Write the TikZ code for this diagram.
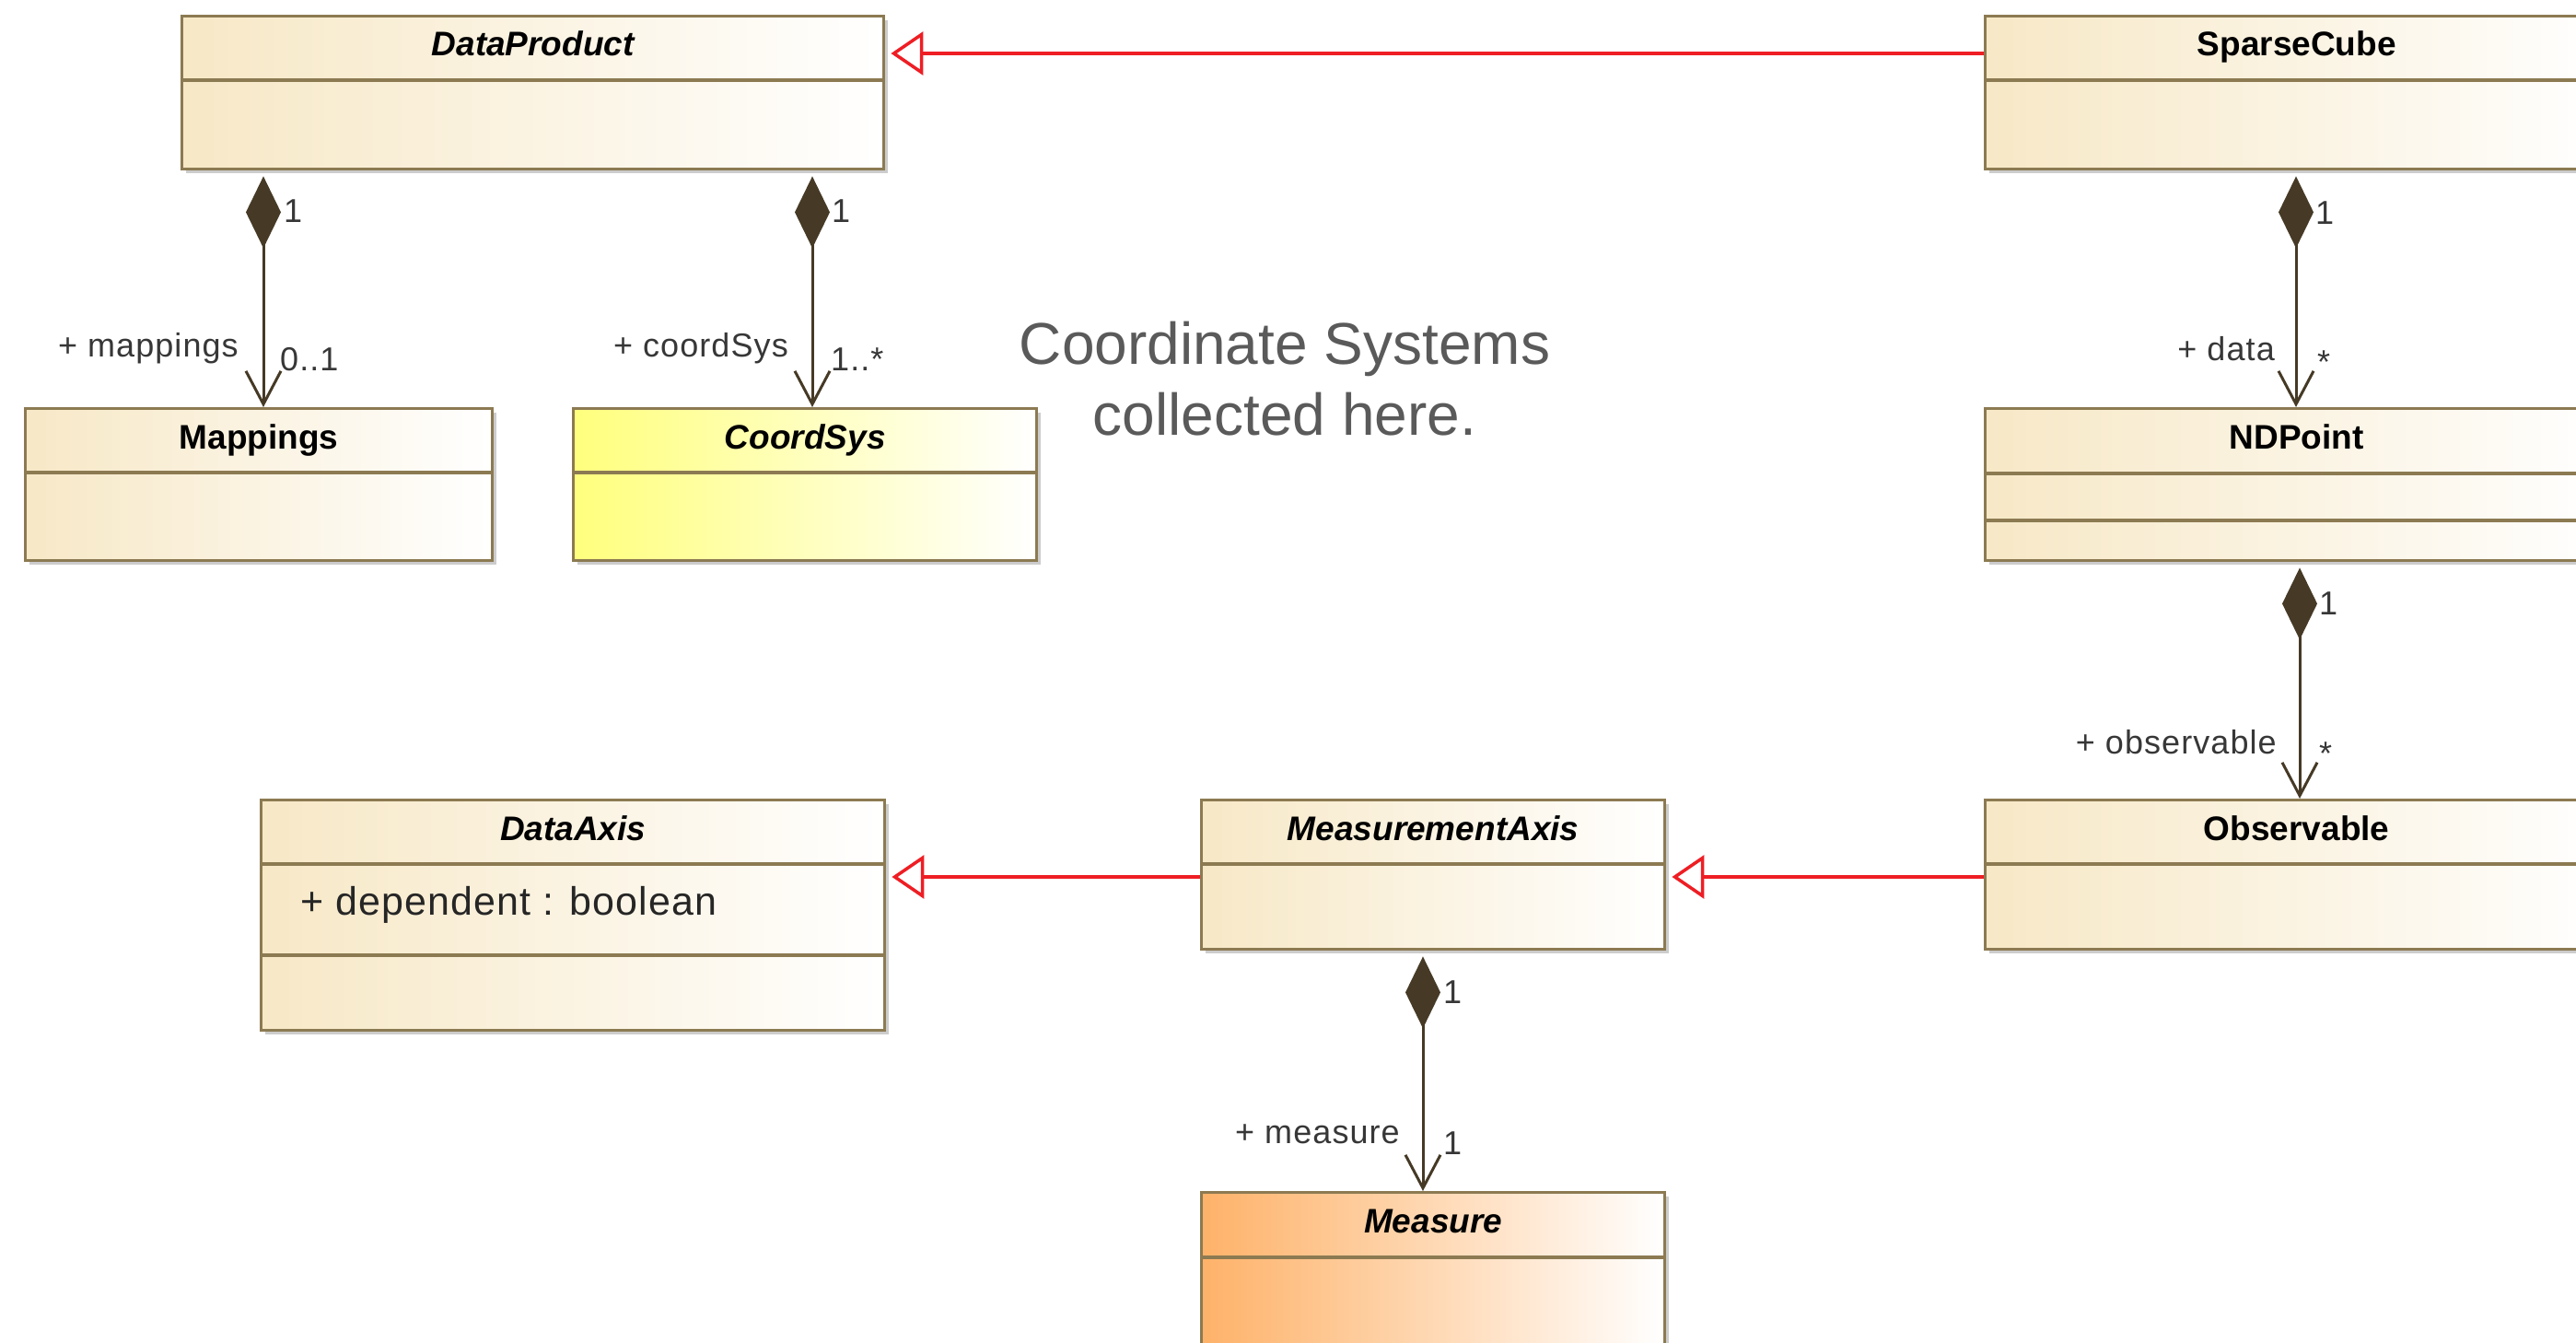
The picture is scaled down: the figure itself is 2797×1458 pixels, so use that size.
\documentclass[tikz,border=0pt]{standalone}
\usepackage{fontspec}
\setmainfont{Liberation Sans}
\usetikzlibrary{arrows.meta,calc,shadows}

\definecolor{umlborder}{RGB}{140,122,82}
\definecolor{umlbeige}{RGB}{247,232,198}
\definecolor{umlyellow}{RGB}{255,255,125}
\definecolor{umlorange}{RGB}{254,178,105}
\definecolor{assoc}{RGB}{70,58,38}
\definecolor{genred}{RGB}{238,30,36}
\definecolor{notegray}{RGB}{90,90,90}
\definecolor{rolegray}{RGB}{55,55,55}

\begin{document}
\begin{tikzpicture}[x=1pt,y=-1pt,
  umlclass/.style={draw=umlborder, line width=3.4pt, inner sep=0pt,
    anchor=north west, left color=#1, right color=white,
    general shadow={fill=black!20, shadow xshift=4pt, shadow yshift=-4pt}},
  divider/.style={draw=umlborder, line width=3.2pt},
  classname/.style={anchor=base, inner sep=0pt, font=\fontsize{37}{40}\selectfont\bfseries},
  attr/.style={anchor=base west, inner sep=0pt, text=black!85,
    font=\fontsize{43}{46}\selectfont\addfontfeatures{LetterSpace=2.5}},
  role/.style={inner sep=0pt, text=rolegray,
    font=\fontsize{36}{38}\selectfont\addfontfeatures{LetterSpace=3}},
  comp/.style={draw=assoc, line width=3pt, line join=round, shorten <=6pt,
    {Diamond[length=78pt,width=38pt,fill=assoc]}-{Straight Barb[length=36pt,width=38pt]}},
  gen/.style={draw=genred, line width=3.5pt, shorten >=6pt,
    -{Triangle[open,length=35pt,width=47pt,fill=white]}},
  note/.style={anchor=base, inner sep=0pt, text=notegray, font=\fontsize{64}{72}\selectfont}
]
\useasboundingbox (0,0) rectangle (2797,1458);

% ---------- classes ----------
\node[umlclass=umlbeige, minimum width=762pt, minimum height=166pt] (dp) at (196,16) {};
\draw[divider] ($(dp.north west)+(0,71)$) -- ($(dp.north east)+(0,71)$);
\node[classname] (dpT) at ($(dp.north)+(0,45)$) {\itshape DataProduct};

\node[umlclass=umlbeige, minimum width=676pt, minimum height=166pt] (sc) at (2154,16) {};
\draw[divider] ($(sc.north west)+(0,71)$) -- ($(sc.north east)+(0,71)$);
\node[classname] (scT) at ($(sc.north)+(0,45)$) {SparseCube};

\node[umlclass=umlbeige, minimum width=507pt, minimum height=165pt] (map) at (26,442) {};
\draw[divider] ($(map.north west)+(0,71)$) -- ($(map.north east)+(0,71)$);
\node[classname] (mapT) at ($(map.north)+(0,45)$) {Mappings};

\node[umlclass=umlyellow, minimum width=503pt, minimum height=165pt] (cs) at (621,442) {};
\draw[divider] ($(cs.north west)+(0,71)$) -- ($(cs.north east)+(0,71)$);
\node[classname] (csT) at ($(cs.north)+(0,45)$) {\itshape CoordSys};

\node[umlclass=umlbeige, minimum width=676pt, minimum height=165pt] (ndp) at (2154,442) {};
\draw[divider] ($(ndp.north west)+(0,72)$) -- ($(ndp.north east)+(0,72)$);
\draw[divider] ($(ndp.north west)+(0,123)$) -- ($(ndp.north east)+(0,123)$);
\node[classname] (ndpT) at ($(ndp.north)+(0,45)$) {NDPoint};

\node[umlclass=umlbeige, minimum width=677pt, minimum height=250pt] (da) at (282,867) {};
\draw[divider] ($(da.north west)+(0,71)$) -- ($(da.north east)+(0,71)$);
\draw[divider] ($(da.north west)+(0,170)$) -- ($(da.north east)+(0,170)$);
\node[classname] (daT) at ($(da.north)+(0,45)$) {\itshape DataAxis};
\node[attr] (daA) at ($(da.north west)+(44,126)$) {+ dependent : boolean};

\node[umlclass=umlbeige, minimum width=503pt, minimum height=162pt] (ma) at (1303,867) {};
\draw[divider] ($(ma.north west)+(0,71)$) -- ($(ma.north east)+(0,71)$);
\node[classname] (maT) at ($(ma.north)+(0,45)$) {\itshape MeasurementAxis};

\node[umlclass=umlbeige, minimum width=676pt, minimum height=162pt] (obs) at (2154,867) {};
\draw[divider] ($(obs.north west)+(0,71)$) -- ($(obs.north east)+(0,71)$);
\node[classname] (obsT) at ($(obs.north)+(0,45)$) {Observable};

\node[umlclass=umlorange, minimum width=503pt, minimum height=185pt] (mea) at (1303,1293) {};
\draw[divider] ($(mea.north west)+(0,72)$) -- ($(mea.north east)+(0,72)$);
\node[classname] (meaT) at ($(mea.north)+(0,45)$) {\itshape Measure};

% ---------- note ----------
\node[note] (note1) at (1395,395) {Coordinate Systems};
\node[note] (note2) at (1395,472) {collected here.};

% ---------- generalizations ----------
\draw[gen] ($(sc.north west)+(0,42)$) -- ($(dp.north east)+(0,42)$);
\draw[gen] ($(ma.north west)+(0,85)$) -- ($(da.north east)+(0,85)$);
\draw[gen] ($(obs.north west)+(0,85)$) -- ($(ma.north east)+(0,85)$);

% ---------- compositions ----------
\coordinate (xmap) at (286,0);
\coordinate (xcs) at (882,0);
\coordinate (xdata) at (2493,0);
\coordinate (xobs) at (2497,0);
\coordinate (xmea) at (1545,0);

\draw[comp] (dp.south -| xmap) -- (map.north -| xmap);
\draw[comp] (dp.south -| xcs) -- (cs.north -| xcs);
\draw[comp] (sc.south -| xdata) -- (ndp.north -| xdata);
\draw[comp] (ndp.south -| xobs) -- (obs.north -| xobs);
\draw[comp] (ma.south -| xmea) -- (mea.north -| xmea);

% ---------- roles and multiplicities ----------
\node[role, anchor=west] (m1) at (308,229) {1};
\node[role, anchor=east] (mapR) at (259,378) {+ mappings};
\node[role, anchor=west] (mapM) at (304,390) {0..1};

\node[role, anchor=west] (c1) at (903,229) {1};
\node[role, anchor=east] (csR) at (856,378) {+ coordSys};
\node[role, anchor=west] (csM) at (902,390) {1..*};

\node[role, anchor=west] (s1) at (2514,231) {1};
\node[role, anchor=east] (scR) at (2470,379) {+ data};
\node[role, anchor=west] (scM) at (2516,393) {*};

\node[role, anchor=west] (n1) at (2518,655) {1};
\node[role, anchor=east] (ndpR) at (2472,806) {+ observable};
\node[role, anchor=west] (ndpM) at (2518,818) {*};

\node[role, anchor=west] (a1) at (1567,1077) {1};
\node[role, anchor=east] (maR) at (1520,1231) {+ measure};
\node[role, anchor=west] (maM) at (1567,1241) {1};
\end{tikzpicture}
\end{document}
